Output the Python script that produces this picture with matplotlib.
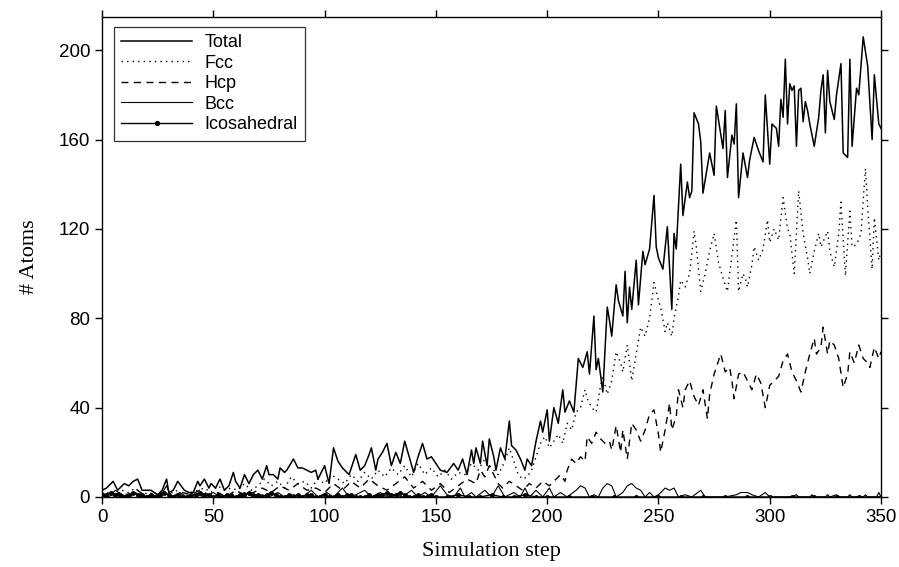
import matplotlib
matplotlib.use("Agg")
import matplotlib.pyplot as plt

# ---- data (step, value) ----
total_steps = [0,2,5,7,10,12,14,16,18,20,22,25,27,29,30,32,34,37,39,41,43,44,46,48,49,51,53,55,57,59,60,62,64,66,68,70,72,74,75,77,79,80,82,83,86,88,90,92,94,96,97,100,102,104,106,108,111,114,116,118,120,121,123,124,126,128,130,132,134,136,138,140,142,144,146,148,150,152,155,158,160,162,164,166,167,168,170,171,173,174,176,177,179,181,183,184,186,188,190,191,193,195,197,198,200,201,203,205,207,208,210,212,214,216,218,219,221,222,223,225,227,228,229,231,232,234,235,236,237,238,240,241,243,244,246,248,249,250,252,254,256,257,258,260,261,263,264,265,266,268,269,270,272,273,275,276,279,280,281,283,284,285,286,288,290,291,293,295,297,298,300,301,303,304,305,306,307,308,309,310,311,312,313,314,315,316,317,318,320,322,323,324,325,326,327,329,330,332,333,335,336,337,339,340,342,344,346,347,349,350]
total_vals = [3,4,7,3,6,5,7,8,3,3,3,1,3,8,2,3,7,3,2,2,7,5,8,4,6,4,8,3,5,11,7,4,10,6,10,12,8,14,10,10,8,13,11,12,17,13,13,12,11,12,8,14,6,22,16,13,10,19,12,14,19,22,12,17,20,24,14,20,15,25,18,11,18,24,17,18,15,12,11,15,12,17,10,21,15,22,15,25,14,26,18,12,22,17,34,23,21,17,12,17,14,25,34,29,39,25,40,33,48,38,43,38,62,58,65,55,81,57,62,47,85,79,72,95,88,81,101,78,94,84,106,86,110,104,111,135,112,107,102,121,84,118,111,149,126,141,134,137,172,167,159,136,148,154,144,175,156,173,143,162,158,176,134,154,143,151,161,155,150,180,149,167,165,157,178,170,196,167,185,182,184,157,182,183,168,177,173,167,157,170,182,189,163,191,177,169,180,194,154,152,196,157,183,180,206,193,160,189,167,165]

fcc_steps = [0,3,6,9,12,15,18,21,24,27,30,33,36,40,43,46,49,52,55,58,61,64,67,70,73,76,79,82,85,88,91,94,97,100,103,106,109,112,115,118,121,124,127,130,133,136,139,142,145,148,151,154,157,160,163,166,169,172,175,178,181,183,185,187,189,191,193,195,197,199,201,203,205,207,209,211,213,215,217,218,220,222,224,225,227,229,231,233,234,236,238,240,242,244,246,248,250,251,253,254,256,257,259,260,262,264,266,267,269,271,273,275,277,279,281,283,285,286,288,289,290,292,293,295,297,299,300,302,304,306,308,309,311,313,315,317,318,320,322,323,326,327,329,331,332,334,336,337,339,341,343,344,346,347,349,350]
fcc_vals = [1,2,1,3,2,4,1,2,1,2,1,3,1,2,3,4,2,5,3,4,3,6,3,5,8,5,7,4,9,6,7,4,8,6,10,8,6,10,7,11,8,12,9,13,10,14,9,15,10,13,9,12,8,11,10,15,12,17,13,10,16,22,16,10,8,9,12,18,24,27,22,25,28,24,33,30,38,40,48,44,40,38,50,54,46,52,65,60,56,68,52,64,76,72,80,96,88,85,74,78,72,80,90,97,94,100,119,112,92,100,110,118,105,98,92,108,124,92,100,98,94,104,112,106,111,124,114,120,115,134,120,118,100,137,118,107,100,110,118,112,119,110,103,118,132,99,128,112,113,118,147,130,102,125,106,110]

hcp_steps = [0,4,8,12,16,20,24,28,32,36,40,44,48,52,56,60,64,68,72,76,80,84,88,92,96,100,104,108,112,116,120,124,128,132,136,140,144,148,152,156,160,164,168,170,172,174,176,178,180,183,186,189,192,195,198,201,204,206,208,209,211,213,215,217,218,220,222,224,226,228,229,231,233,234,236,238,240,242,244,246,248,250,251,253,255,256,258,259,261,262,264,266,268,270,272,273,275,276,278,280,282,283,284,286,288,290,292,294,296,298,300,302,304,306,308,310,312,314,316,318,320,321,323,324,326,327,329,331,333,335,336,338,340,342,344,345,347,349,350]
hcp_vals = [1,0,2,1,3,0,1,2,0,2,1,3,1,2,0,3,1,2,4,2,5,3,6,3,4,2,6,3,7,4,8,5,3,6,9,4,7,3,6,2,5,8,6,12,9,14,10,6,4,7,5,3,6,4,7,5,8,10,7,12,17,15,18,16,27,24,29,26,24,25,21,32,20,30,17,33,30,25,30,37,39,28,20,30,42,30,36,48,40,48,52,45,41,48,35,46,55,58,64,56,58,52,44,55,56,52,48,55,51,40,50,52,54,61,64,56,52,47,56,64,71,64,67,76,64,70,68,62,49,55,65,60,68,62,60,58,67,62,65]

bcc_steps = [0,3,6,9,12,15,18,22,26,29,31,35,38,43,46,50,53,57,60,64,68,72,75,79,82,86,90,94,97,101,104,108,111,114,118,121,125,128,131,135,139,142,145,148,152,155,158,161,163,166,168,172,175,178,181,185,188,190,192,195,198,201,203,206,209,213,215,217,219,221,223,225,227,229,231,234,236,238,240,242,244,246,248,250,253,255,257,259,262,265,269,271,275,280,285,287,290,292,295,298,300,310,312,313,318,319,320,325,326,327,330,331,335,336,337,342,343,344,348,349,350]
bcc_vals = [2,0,3,1,0,2,0,1,0,5,0,2,0,1,0,2,0,1,0,2,0,1,0,2,0,1,0,3,0,2,0,4,0,1,3,0,2,0,1,0,3,0,2,0,5,1,0,4,0,2,0,3,0,5,0,2,0,4,0,3,0,4,0,2,0,3,5,4,0,1,0,4,6,5,0,2,5,6,4,3,0,2,0,1,4,3,4,0,1,0,3,0,0,0,1,2,2,1,0,2,0,0,1,0,0,1,0,0,1,0,1,0,0,1,0,0,1,0,0,2,0]

ico_steps = [0,2,4,6,8,10,12,14,16,18,20,22,24,26,28,30,32,34,36,38,40,42,44,46,48,50,52,54,56,58,60,62,64,66,68,70,72,74,76,78,80,82,84,86,88,90,92,94,96,98,100,102,104,106,108,110,112,114,116,118,120,122,124,126,128,130,132,134,136,138,140,142,144,146,148,150,155,160,165,170,175,180,185,190,195,200,210,220,230,240,250,260,270,280,290,300,310,320,330,340,350]
ico_vals = [1,1,2,1,1,0,1,2,1,1,0,1,0,1,2,1,0,1,0,0,1,1,2,1,1,0,1,0,1,1,0,1,1,2,1,1,0,1,2,1,0,0,1,0,1,0,1,1,0,0,1,0,0,1,0,1,1,0,0,0,1,0,1,1,2,1,1,2,1,0,0,1,0,0,1,0,0,1,0,0,1,0,0,1,0,0,0,0,0,0,0,0,0,0,0,0,0,0,0,0,0]

x_ticks = [0, 50, 100, 150, 200, 250, 300, 350]
y_ticks = [0, 40, 80, 120, 160, 200]

# ---- figure ----
fig = plt.figure(figsize=(8.99, 5.67), dpi=100)
ax = fig.add_axes([0.1135, 0.1235, 0.8665, 0.847])

k = dict(color="black")
ax.plot(total_steps, total_vals, lw=1.1, ls="-", label="Total", **k)
ax.plot(fcc_steps, fcc_vals, lw=1.0, ls=(0, (1, 3)), label="Fcc", **k)
ax.plot(hcp_steps, hcp_vals, lw=1.0, ls=(0, (5, 4)), label="Hcp", **k)
ax.plot(bcc_steps, bcc_vals, lw=0.8, ls="-", label="Bcc", **k)
ax.plot(ico_steps, ico_vals, lw=1.0, ls="-", marker="o", markersize=2.5,
        label="Icosahedral", **k)

ax.set_xlim(0, 350)
ax.set_ylim(0, 215)
ax.set_xticks(x_ticks)
ax.set_yticks(y_ticks)
ax.tick_params(direction="out", length=5, width=1, top=True, right=True,
               labeltop=False, labelright=False, labelsize=13.5)
for lab in ax.get_xticklabels() + ax.get_yticklabels():
    lab.set_family("Liberation Sans")
for s in ax.spines.values():
    s.set_linewidth(1.0)

ax.set_xlabel("Simulation step", family="Liberation Serif", fontsize=16, labelpad=12)
ax.set_ylabel("# Atoms", family="Liberation Serif", fontsize=16, labelpad=14)

leg = ax.legend(loc="upper left", bbox_to_anchor=(0.004, 0.998), frameon=True,
                fancybox=False, edgecolor="black", handlelength=3.9,
                labelspacing=0.2, borderpad=0.4, handletextpad=0.7,
                prop={"family": "Liberation Sans", "size": 13}, markerscale=1.1)
leg.get_frame().set_linewidth(0.9)

fig.savefig("out.png", dpi=100)
